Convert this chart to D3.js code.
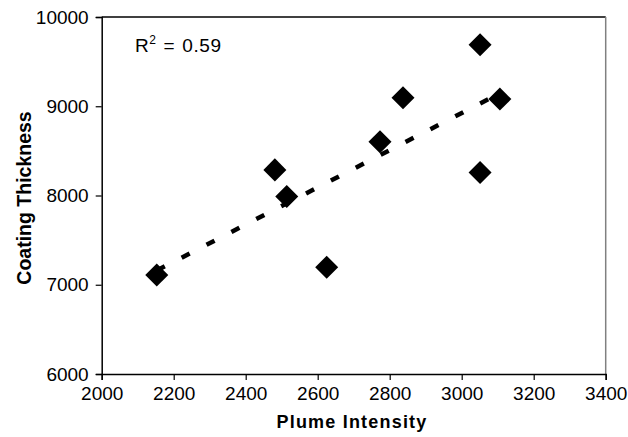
<!DOCTYPE html>
<html>
<head>
<meta charset="utf-8">
<script src="https://cdn.jsdelivr.net/npm/d3@7"></script>
<style>
  html, body { margin: 0; padding: 0; background: #fff; }
  svg { display: block; }
  text { font-family: "Liberation Sans", Arial, sans-serif; fill: #000; }
</style>
</head>
<body>
<svg id="chart" width="628" height="437"></svg>
<script>
const plumeIntensity = [2153, 2481, 2514, 2625, 2773, 2837, 3051, 3051, 3106];
const coatingThickness = [7110, 8287, 7988, 7196, 8601, 9094, 9688, 8257, 9080];
const xTicks = [2000, 2200, 2400, 2600, 2800, 3000, 3200, 3400];
const yTicks = [6000, 7000, 8000, 9000, 10000];
const xLabel = "Plume Intensity";
const yLabel = "Coating Thickness";
const r2Label = "0.59";

(function () {
const svg = d3.select("#chart");
const pLeft = 101.7, pRight = 605.7, pTop = 17, pBottom = 374;

const x = d3.scaleLinear().domain([2000, 3400]).range([pLeft, pRight]);
const y = d3.scaleLinear().domain([6000, 10000]).range([pBottom, pTop]);

// frame
svg.append("line").attr("x1", pLeft).attr("x2", pRight).attr("y1", pTop).attr("y2", pTop)
  .attr("stroke", "#000").attr("stroke-width", 1.5);
svg.append("line").attr("x1", pRight).attr("x2", pRight).attr("y1", pTop).attr("y2", pBottom)
  .attr("stroke", "#808080").attr("stroke-width", 1.5);

const xAxis = svg.append("g").attr("transform", `translate(0,${pBottom})`)
  .call(d3.axisBottom(x).tickValues(xTicks).tickSize(6).tickPadding(7).tickFormat(d3.format("d")));
const yAxis = svg.append("g").attr("transform", `translate(${pLeft},0)`)
  .call(d3.axisLeft(y).tickValues(yTicks).tickSize(6).tickPadding(7).tickFormat(d3.format("d")));
[xAxis, yAxis].forEach(g => {
  g.select(".domain").attr("stroke", "#000").attr("stroke-width", 1.5);
  g.selectAll(".tick line").attr("stroke", "#000").attr("stroke-width", 1.2);
  g.selectAll(".tick text").attr("font-size", 19).attr("font-family", "Liberation Sans, Arial, sans-serif").attr("fill", "#000");
});

// points
const pts = plumeIntensity.map((v, i) => [v, coatingThickness[i]]);
svg.append("g").selectAll("path").data(pts).join("path")
  .attr("transform", d => `translate(${x(d[0])},${y(d[1])}) rotate(45)`)
  .attr("d", d3.symbol().type(d3.symbolSquare).size(265)())
  .attr("fill", "#000");

// linear trendline (least squares)
const mx = d3.mean(plumeIntensity), my = d3.mean(coatingThickness);
let sxy = 0, sxx = 0;
pts.forEach(([a, b]) => { sxy += (a - mx) * (b - my); sxx += (a - mx) ** 2; });
const slope = sxy / sxx, icpt = my - slope * mx;
const x0 = d3.min(plumeIntensity), x1 = d3.max(plumeIntensity);
svg.append("line")
  .attr("x1", x(x0)).attr("y1", y(icpt + slope * x0))
  .attr("x2", x(x1)).attr("y2", y(icpt + slope * x1))
  .attr("stroke", "#000").attr("stroke-width", 4.5)
  .attr("stroke-dasharray", "9,19");

// R^2 annotation
const t = svg.append("text").attr("x", 135).attr("y", 52).attr("font-size", 19).attr("letter-spacing", 0.6);
t.append("tspan").text("R");
t.append("tspan").attr("font-size", 12).attr("dy", -8).text("2");
t.append("tspan").attr("dy", 8).attr("dx", 7).text("=");
t.append("tspan").attr("dx", 7).text(r2Label);

// axis titles
svg.append("text").attr("x", 352).attr("y", 428).attr("text-anchor", "middle")
  .attr("font-size", 18).attr("font-weight", "bold").attr("letter-spacing", 1.2).text(xLabel);
svg.append("text").attr("transform", "translate(31,198) rotate(-90)").attr("text-anchor", "middle")
  .attr("font-size", 19.5).attr("font-weight", "bold").text(yLabel);
})();
</script>
</body>
</html>
